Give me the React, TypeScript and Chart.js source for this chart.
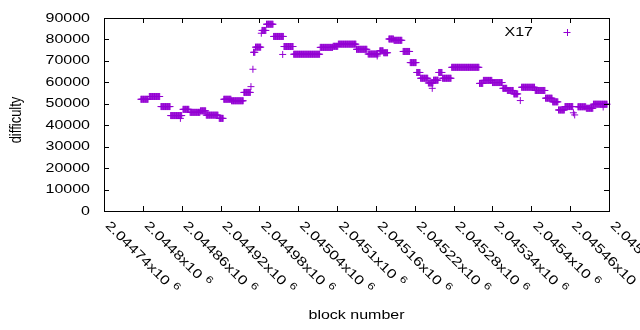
import React, { useEffect, useRef } from "react";
import { Chart, registerables } from "chart.js";

Chart.register(...registerables);

// Runs of consecutive blocks sharing the same difficulty
const runStart = [
  2044797, 2044810, 2044828, 2044843, 2044862, 2044873, 2044889, 2044898, 2044918, 2044925,
  2044937, 2044956, 2044971, 2044974, 2044984, 2044991, 2045002, 2045018, 2045033, 2045074,
  2045094, 2045102, 2045130, 2045148, 2045166, 2045172, 2045180, 2045188, 2045202, 2045213,
  2045223, 2045229, 2045241, 2045249, 2045257, 2045263, 2045277, 2045320, 2045326, 2045340,
  2045356, 2045363, 2045373, 2045385, 2045406, 2045422, 2045433, 2045442, 2045452, 2045472,
  2045485, 2045496,
];
const runEnd = [
  2044808, 2044826, 2044842, 2044860, 2044871, 2044888, 2044897, 2044916, 2044924, 2044936,
  2044955, 2044966, 2044973, 2044982, 2044990, 2045001, 2045017, 2045032, 2045073, 2045093,
  2045101, 2045129, 2045146, 2045163, 2045171, 2045178, 2045187, 2045200, 2045212, 2045222,
  2045228, 2045240, 2045248, 2045256, 2045262, 2045276, 2045319, 2045325, 2045339, 2045355,
  2045362, 2045372, 2045379, 2045405, 2045421, 2045432, 2045441, 2045451, 2045464, 2045484,
  2045495, 2045517,
];
const runValue = [
  52100, 53400, 48700, 44500, 47400, 46000, 46700, 44700, 43200, 52100,
  51400, 55300, 74000, 76400, 84200, 87100, 81400, 76700, 73100, 76300,
  76800, 77800, 75400, 73200, 74700, 73800, 80200, 79600, 74400, 69200,
  64600, 61900, 59700, 61000, 64600, 61900, 67000, 59500, 60900, 59900,
  57200, 56200, 54600, 57700, 56200, 52600, 50900, 47100, 48700, 48600,
  47900, 49800,
];
// Isolated blocks
const singleBlock = [2044858, 2044967, 2044970, 2044983, 2045016, 2045162, 2045247, 2045383, 2045465, 2045467, 2045511];
const singleValue = [43200, 58000, 66100, 82900, 73000, 72300, 57200, 51500, 45800, 44800, 48500];

const xTicks = [
  2044740, 2044800, 2044860, 2044920, 2044980, 2045040, 2045100, 2045160, 2045220, 2045280,
  2045340, 2045400, 2045460, 2045520,
];
const xTickText = [
  "2.04474", "2.0448", "2.04486", "2.04492", "2.04498", "2.04504", "2.0451", "2.04516",
  "2.04522", "2.04528", "2.04534", "2.0454", "2.04546", "2.04552",
];
const yTicks = [0, 10000, 20000, 30000, 40000, 50000, 60000, 70000, 80000, 90000];

const seriesName = "X17";
const xTitle = "block number";
const yTitle = "difficulty";
const COLOR = "#9400d3";
const FONT = "'Liberation Sans', Arial, sans-serif";
const SX = 1.23;

export default function App() {
  const ref = useRef<HTMLCanvasElement>(null);
  useEffect(() => {
    const points: { x: number; y: number }[] = [];
    for (let i = 0; i < runStart.length; i++) {
      for (let b = runStart[i]; b <= runEnd[i]; b++) points.push({ x: b, y: runValue[i] });
    }
    for (let i = 0; i < singleBlock.length; i++) points.push({ x: singleBlock[i], y: singleValue[i] });

    const decor = {
      id: "decor",
      afterDraw(chart: any) {
        const ctx = chart.ctx as CanvasRenderingContext2D;
        const { left, right, top, bottom } = chart.chartArea;
        const xs = chart.scales.x;
        const ys = chart.scales.y;
        ctx.save();
        ctx.strokeStyle = "#000";
        ctx.lineWidth = 1;
        ctx.strokeRect(Math.round(left) + 0.5, Math.round(top) + 0.5, Math.round(right - left), Math.round(bottom - top));
        ctx.beginPath();
        const tl = 5;
        for (const v of yTicks) {
          const y = Math.round(ys.getPixelForValue(v)) + 0.5;
          ctx.moveTo(left, y); ctx.lineTo(left + tl, y);
          ctx.moveTo(right, y); ctx.lineTo(right - tl, y);
        }
        for (const v of xTicks) {
          const x = Math.round(xs.getPixelForValue(v)) + 0.5;
          ctx.moveTo(x, bottom); ctx.lineTo(x, bottom - tl);
          ctx.moveTo(x, top); ctx.lineTo(x, top + tl);
        }
        ctx.stroke();

        ctx.fillStyle = "#000";
        ctx.font = `13px ${FONT}`;
        // y tick labels
        for (const v of yTicks) {
          const y = ys.getPixelForValue(v);
          ctx.save();
          ctx.translate(left - 14, y);
          ctx.scale(SX, 1);
          ctx.textAlign = "right";
          ctx.textBaseline = "middle";
          ctx.fillText(String(v), 0, 0);
          ctx.restore();
        }
        // x tick labels (rotated, with superscript exponent)
        for (let i = 0; i < xTicks.length; i++) {
          const x = xs.getPixelForValue(xTicks[i]);
          ctx.save();
          ctx.translate(x + 8, bottom + 8);
          ctx.rotate(Math.PI / 4);
          ctx.scale(1.25, 1);
          ctx.textAlign = "left";
          ctx.textBaseline = "top";
          ctx.font = `13px ${FONT}`;
          const main = xTickText[i] + "x10";
          ctx.fillText(main, 0, 0);
          const w = ctx.measureText(main).width;
          ctx.font = `10px ${FONT}`;
          ctx.fillText("6", w + 4, -3);
          ctx.restore();
        }
        // axis titles
        ctx.font = `13px ${FONT}`;
        ctx.save();
        ctx.translate((left + right) / 2, 315);
        ctx.scale(SX, 1);
        ctx.textAlign = "center";
        ctx.textBaseline = "middle";
        ctx.fillText(xTitle, 0, 0);
        ctx.restore();
        ctx.save();
        ctx.translate(17, 120);
        ctx.scale(SX, 1);
        ctx.rotate(-Math.PI / 2);
        ctx.textAlign = "center";
        ctx.textBaseline = "middle";
        ctx.fillText(yTitle, 0, 0);
        ctx.restore();
        // legend
        ctx.save();
        ctx.translate(533, 32);
        ctx.scale(SX, 1);
        ctx.textAlign = "right";
        ctx.textBaseline = "middle";
        ctx.fillText(seriesName, 0, 0);
        ctx.restore();
        ctx.strokeStyle = COLOR;
        ctx.beginPath();
        ctx.moveTo(563.5, 32.5); ctx.lineTo(570.5, 32.5);
        ctx.moveTo(567.5, 29); ctx.lineTo(567.5, 36);
        ctx.stroke();
        ctx.restore();
      },
    };

    const chart = new Chart(ref.current!, {
      type: "scatter",
      data: {
        datasets: [
          {
            label: seriesName,
            data: points,
            pointStyle: "cross",
            pointRadius: 3.5,
            pointBorderWidth: 1,
            borderColor: COLOR,
            backgroundColor: COLOR,
            clip: false as any,
          },
        ],
      },
      options: {
        animation: false,
        responsive: false,
        events: [],
        layout: { padding: { left: 104, right: 31, top: 18, bottom: 119 } },
        plugins: { legend: { display: false }, tooltip: { enabled: false } },
        scales: {
          x: { type: "linear", min: 2044740, max: 2045520, display: false },
          y: { type: "linear", min: 0, max: 90000, display: false },
        },
      },
      plugins: [decor],
    });
    return () => chart.destroy();
  }, []);
  return (
    <div style={{ position: "fixed", left: 0, top: 0, width: 640, height: 330, background: "#fff" }}>
      <canvas ref={ref} width={640} height={330} />
    </div>
  );
}
